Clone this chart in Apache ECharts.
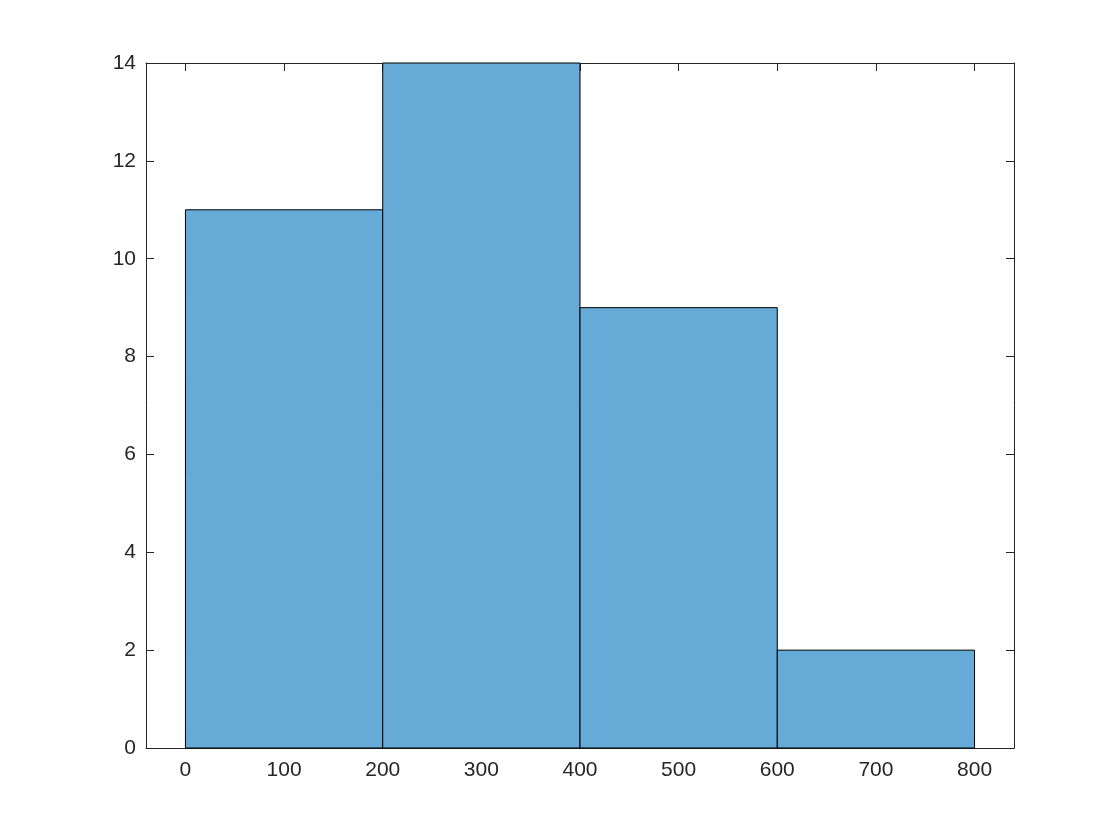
<!DOCTYPE html>
<html>
<head>
<meta charset="utf-8">
<script src="https://cdn.jsdelivr.net/npm/echarts@6/dist/echarts.min.js"></script>
<style>
  html, body { margin: 0; padding: 0; background: #fff; }
  #main { width: 1120px; height: 840px; }
</style>
</head>
<body>
<div id="main"></div>
<script>
// histogram bins: left edge, right edge, count
let binEdges = [0, 200, 400, 600, 800];
let binCounts = [11, 14, 9, 2];
let xTicks = [0, 100, 200, 300, 400, 500, 600, 700, 800];
let yTicks = [0, 2, 4, 6, 8, 10, 12, 14];

let bins = binCounts.map((c, i) => [binEdges[i], binEdges[i + 1], c]);

let axisColor = '#262626';
let font = { color: axisColor, fontSize: 21, fontFamily: 'Liberation Sans, Arial, sans-serif' };

let myChart = echarts.init(document.getElementById('main'));
myChart.setOption({
    animation: false,
    grid: { left: 146, right: 106, top: 63, bottom: 92 },
    xAxis: [{
        type: 'value',
        min: -40,
        max: 840,
        axisLine: { show: true, onZero: false, lineStyle: { color: axisColor, width: 1 } },
        axisTick: { show: true, inside: true, length: 8, customValues: xTicks, lineStyle: { color: axisColor } },
        axisLabel: Object.assign({ customValues: xTicks, margin: 12 }, font),
        splitLine: { show: false }
    }, {
        type: 'value',
        position: 'top',
        min: -40,
        max: 840,
        axisLine: { show: true, onZero: false, lineStyle: { color: axisColor, width: 1 } },
        axisTick: { show: true, inside: true, length: 8, customValues: xTicks, lineStyle: { color: axisColor } },
        axisLabel: { show: false },
        splitLine: { show: false }
    }],
    yAxis: [{
        type: 'value',
        min: 0,
        max: 14,
        interval: 2,
        axisLine: { show: true, onZero: false, lineStyle: { color: axisColor, width: 1 } },
        axisTick: { show: true, inside: true, length: 8, lineStyle: { color: axisColor } },
        axisLabel: Object.assign({ margin: 10, formatter: v => yTicks.includes(v) ? String(v) : '' }, font),
        splitLine: { show: false }
    }, {
        type: 'value',
        position: 'right',
        min: 0,
        max: 14,
        interval: 2,
        axisLine: { show: true, onZero: false, lineStyle: { color: axisColor, width: 1 } },
        axisTick: { show: true, inside: true, length: 8, lineStyle: { color: axisColor } },
        axisLabel: { show: false },
        splitLine: { show: false }
    }],
    series: [{
        type: 'custom',
        xAxisIndex: 0,
        yAxisIndex: 0,
        data: bins,
        renderItem: function (params, api) {
            let p0 = api.coord([api.value(0), 0]);
            let p1 = api.coord([api.value(1), api.value(2)]);
            return {
                type: 'rect',
                shape: { x: p0[0], y: p1[1], width: p1[0] - p0[0], height: p0[1] - p1[1] },
                style: { fill: '#66aad7', stroke: '#000', lineWidth: 1 }
            };
        }
    }]
});
</script>
</body>
</html>
